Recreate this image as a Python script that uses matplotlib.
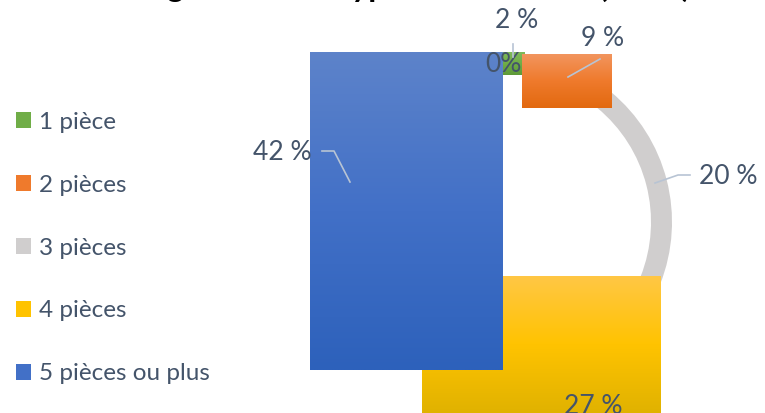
import numpy as np
import matplotlib
matplotlib.use("Agg")
import matplotlib.pyplot as plt
from matplotlib.path import Path
from matplotlib.patches import Patch
from matplotlib.colors import LinearSegmentedColormap

# ---------------- data ----------------
categories = ["1 pièce", "2 pièces", "3 pièces", "4 pièces", "5 pièces ou plus"]
values = [2, 9, 20, 27, 42]
value_labels = ["2 %", "9 %", "20 %", "27 %", "42 %"]
extra_label = "0%"
title_main = "Logements de type de résidence "
title_year = "(2019)"

# ---------------- style ----------------
base_colors = ["#70AD47", "#ED7D31", "#D0CECE", "#FFC000", "#4472C4"]
grad_stops = [
    ["#7FB95A", "#70AD47", "#5E9A38"],
    ["#F2955E", "#EF7A2C", "#E2690F"],
    ["#D0CECE", "#D0CECE", "#D0CECE"],
    ["#FFC745", "#FFC300", "#E0B200"],
    ["#5D83CA", "#4270C7", "#2D61BB"],
]
text_color = "#44546A"
leader_color = "#B8C4D4"
font = ["Lato", "DejaVu Sans"]
plt.rcParams["font.family"] = font

W, H = 765, 413
fig = plt.figure(figsize=(W / 100, H / 100), dpi=100)
ax = fig.add_axes([0, 0, 1, 1])

cx, cy, R, ring = 503, 191, 169, 21
wedges, _ = ax.pie(values, startangle=90, counterclock=False, radius=R,
                   center=(cx, cy), colors=base_colors,
                   wedgeprops=dict(width=ring, linewidth=0))
ax.set_xlim(0, W)
ax.set_ylim(0, H)
ax.set_aspect("equal")
ax.axis("off")


def bezier_box(w):
    """Bounding box of the wedge outline built from 90-degree cubic pieces,
    control points included (how the reference renders its gradient boxes)."""
    pts = []
    c = np.array(w.center)
    rin = w.r - w.width
    a = w.theta2
    while a > w.theta1 + 1e-9:
        b = max(a - 90, w.theta1)
        pts.append(Path.arc(b, a, n=1).vertices * w.r + c)
        a = b
    a = w.theta1
    while a < w.theta2 - 1e-9:
        b = min(a + 90, w.theta2)
        pts.append(Path.arc(a, b, n=1).vertices * rin + c)
        a = b
    pts = np.vstack(pts)
    return pts[:, 0].min(), pts[:, 0].max(), pts[:, 1].min(), pts[:, 1].max()


# gray slice stays a ring; other slices are drawn as gradient boxes
for i, w in enumerate(wedges):
    if i == 2:
        w.set_zorder(1)
        continue
    w.set_visible(False)
    x0, x1, y0, y1 = bezier_box(w)
    cmap = LinearSegmentedColormap.from_list("g%d" % i, grad_stops[i])
    grad = np.linspace(0, 1, 256).reshape(-1, 1)
    ax.imshow(grad, cmap=cmap, extent=(x0, x1, y0, y1), origin="upper",
              aspect="auto", interpolation="bilinear", zorder=2 + i)
ax.set_xlim(0, W)
ax.set_ylim(0, H)

# ---------------- data labels ----------------
lab_pos = [(517, 392), (603, 375), (728, 236), (593, 7), (282, 261)]
for (x, y), t in zip(lab_pos, value_labels):
    ax.text(x, y, t, ha="center", va="center", fontsize=19, color=text_color,
            zorder=20)
ax.text(503, 348, extra_label, ha="center", va="center", fontsize=19,
        color=text_color, zorder=20)

leaders = [
    [(513, 369), (513, 356)],
    [(568, 336), (600, 354)],
    [(655, 230), (678, 238), (690, 238)],
    [(322, 262), (334, 262), (350, 231)],
]
for pl in leaders:
    xs, ys = zip(*pl)
    ax.plot(xs, ys, color=leader_color, lw=1.2, zorder=21)

# ---------------- title (cut at the top edge) ----------------
renderer = fig.canvas.get_renderer()
title_fs = 23


def text_width(s):
    t = ax.text(0, 0, s, fontsize=title_fs, fontweight="bold")
    wpx = t.get_window_extent(renderer).width
    t.remove()
    return wpx


# place so that the opening parenthesis starts where the reference shows it
paren_left = 599
main_w = text_width(title_main + "(") - text_width("(")
ax.text(paren_left - main_w, H + 3, title_main + title_year, ha="left",
        va="baseline", fontsize=title_fs, fontweight="bold", color="black",
        zorder=30, clip_on=False)

# ---------------- legend ----------------
handles = [Patch(facecolor=grad_stops[i][1], edgecolor="none")
           for i in range(len(categories))]
leg = ax.legend(handles, categories, loc="upper left",
                bbox_to_anchor=(16 / W, 1 - 112 / H), frameon=False,
                fontsize=17.5, labelcolor=text_color, labelspacing=1.72,
                handlelength=0.63, handleheight=0.63, handletextpad=0.3,
                borderpad=0, borderaxespad=0)

fig.savefig("out.png", dpi=100)
